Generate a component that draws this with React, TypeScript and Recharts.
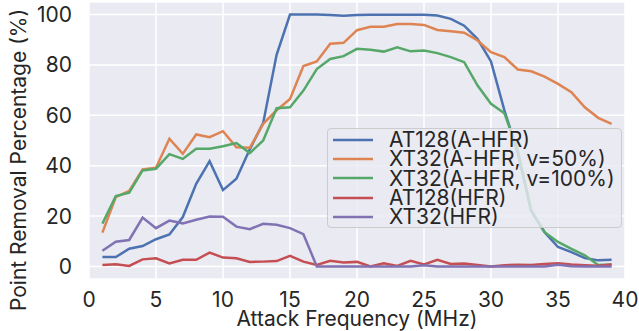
import React from "react";
import { CartesianGrid, Legend, Line, LineChart, XAxis, YAxis } from "recharts";

const frequencies = [
  1, 2, 3, 4, 5, 6, 7, 8, 9, 10, 11, 12, 13, 14, 15, 16, 17, 18, 19, 20,
  21, 22, 23, 24, 25, 26, 27, 28, 29, 30, 31, 32, 33, 34, 35, 36, 37, 38, 39,
];

const at128Ahfr = [
  3.7, 3.7, 7, 8.1, 10.8, 12.7, 19.6, 32.8, 41.8, 30.3, 34.8, 46.5, 57, 84, 100, 100, 100, 99.8, 99.5, 99.8,
  99.9, 99.9, 99.9, 99.9, 99.9, 99.6, 98.3, 95.6, 90.3, 81.4, 62, 45, 22, 13.6, 7.7, 5.7, 3.3, 2.4, 2.6,
];
const xt32AhfrV50 = [
  13.4, 27.5, 30, 38.5, 39.2, 50.7, 44.7, 52.4, 51.3, 53.7, 47.3, 47.1, 56.6, 62, 66.5, 79.6, 81.4, 88.4, 88.8, 93.8,
  95.2, 95.2, 96.3, 96.3, 95.9, 93.9, 93.4, 92.8, 89.7, 85.1, 83.1, 78.2, 77.5, 75.4, 72.5, 69.2, 63.2, 59, 56.6,
];
const xt32AhfrV100 = [
  17, 27.9, 29.3, 38.1, 38.8, 44.6, 42.7, 46.7, 46.7, 47.7, 49, 45, 50, 62.8, 63.2, 69.8, 78.4, 82.4, 83.5, 86.4,
  86, 85.3, 87, 85.4, 85.7, 84.7, 83.1, 81.1, 71.8, 64.6, 60.8, 46, 22.2, 13.6, 9.7, 7, 4.4, 0.6, 0.8,
];
const at128Hfr = [
  0.6, 0.9, 0.2, 2.8, 3.2, 1.2, 2.6, 2.6, 5.5, 3.5, 3.2, 1.8, 1.9, 2.1, 4.2, 1.9, 0.6, 2.2, 1.6, 1.8,
  0, 1.2, 0.2, 2.2, 0.8, 2.6, 1, 1.2, 0.6, 0, 0.5, 0.7, 0.6, 1, 1.3, 0.8, 0.5, 0.3, 0.8,
];
const xt32Hfr = [
  6.2, 9.8, 10.5, 19.4, 15.2, 18.2, 17.1, 18.5, 19.8, 19.7, 15.8, 14.8, 16.9, 16.5, 15.2, 12.8, 0, 0, 0, 0,
  0, 0, 0, 0, 0.5, 0, 0, 0, 0, 0, 0, 0, 0, 0, 0.7, 0.1, 0, 0, 0,
];

const xTicks = [0, 5, 10, 15, 20, 25, 30, 35, 40];
const yTicks = [0, 20, 40, 60, 80, 100];

const series = [
  { key: "at128Ahfr", name: "AT128(A-HFR)", color: "#4C72B0", values: at128Ahfr },
  { key: "xt32AhfrV50", name: "XT32(A-HFR, v=50%)", color: "#DD8452", values: xt32AhfrV50 },
  { key: "xt32AhfrV100", name: "XT32(A-HFR, v=100%)", color: "#55A868", values: xt32AhfrV100 },
  { key: "at128Hfr", name: "AT128(HFR)", color: "#C44E52", values: at128Hfr },
  { key: "xt32Hfr", name: "XT32(HFR)", color: "#8172B3", values: xt32Hfr },
];

const data = frequencies.map((f, i) => {
  const row: Record<string, number> = { freq: f };
  series.forEach((s) => {
    row[s.key] = s.values[i];
  });
  return row;
});

const FONT = "Inter, 'DejaVu Sans', sans-serif";
const TEXT = "#262626";
const FS = 21;

function LegendBox() {
  return (
    <div
      style={{
        boxSizing: "border-box",
        width: 295,
        height: 100,
        background: "rgba(234,234,242,0.8)",
        border: "1px solid #cccccc",
        borderRadius: 4,
        paddingTop: 1,
        fontFamily: FONT,
        fontSize: FS,
        color: TEXT,
      }}
    >
      {series.map((s) => (
        <div key={s.key} style={{ display: "flex", alignItems: "center", height: 19.3, whiteSpace: "nowrap" }}>
          <svg width={61} height={10} style={{ flex: "none" }}>
            <line x1={5} x2={45} y1={5} y2={5} stroke={s.color} strokeWidth={2.5} />
          </svg>
          <span>{s.name}</span>
        </div>
      ))}
    </div>
  );
}

export default function App() {
  return (
    <div style={{ position: "absolute", left: 0, top: 0, width: 639, height: 331, background: "#fff" }}>
      <LineChart width={639} height={331} data={data} margin={{ top: 2, right: 14, bottom: 0, left: 0 }}>
        <CartesianGrid fill="#EAEAF2" stroke="#ffffff" strokeWidth={1.5} />
        <XAxis
          dataKey="freq"
          type="number"
          domain={[0, 40]}
          ticks={xTicks}
          height={52}
          axisLine={false}
          tickLine={false}
          tickSize={0}
          tickMargin={13}
          tick={{ fill: TEXT, fontSize: FS, fontFamily: FONT }}
          label={{
            content: ({ viewBox }: any) => (
              <text
                x={viewBox.x + viewBox.width / 2}
                y={viewBox.y + 47}
                textAnchor="middle"
                fill={TEXT}
                fontSize={FS}
                fontFamily={FONT}
              >
                Attack Frequency (MHz)
              </text>
            ),
          }}
        />
        <YAxis
          type="number"
          domain={[-5, 105]}
          ticks={yTicks}
          width={89}
          axisLine={false}
          tickLine={false}
          tickSize={0}
          tickMargin={17}
          tick={{ fill: TEXT, fontSize: FS, fontFamily: FONT }}
          label={{
            content: () => (
              <text
                x={26}
                y={160}
                transform="rotate(-90 26 160)"
                textAnchor="middle"
                fill={TEXT}
                fontSize={FS}
                fontFamily={FONT}
              >
                Point Removal Percentage (%)
              </text>
            ),
          }}
        />
        {series.map((s) => (
          <Line
            key={s.key}
            dataKey={s.key}
            name={s.name}
            stroke={s.color}
            strokeWidth={2.5}
            dot={false}
            activeDot={false}
            isAnimationActive={false}
          />
        ))}
        <Legend
          layout="vertical"
          align="center"
          verticalAlign="middle"
          wrapperStyle={{ left: 327, top: 128, width: 295, height: 100 }}
          content={() => <LegendBox />}
        />
      </LineChart>
    </div>
  );
}
